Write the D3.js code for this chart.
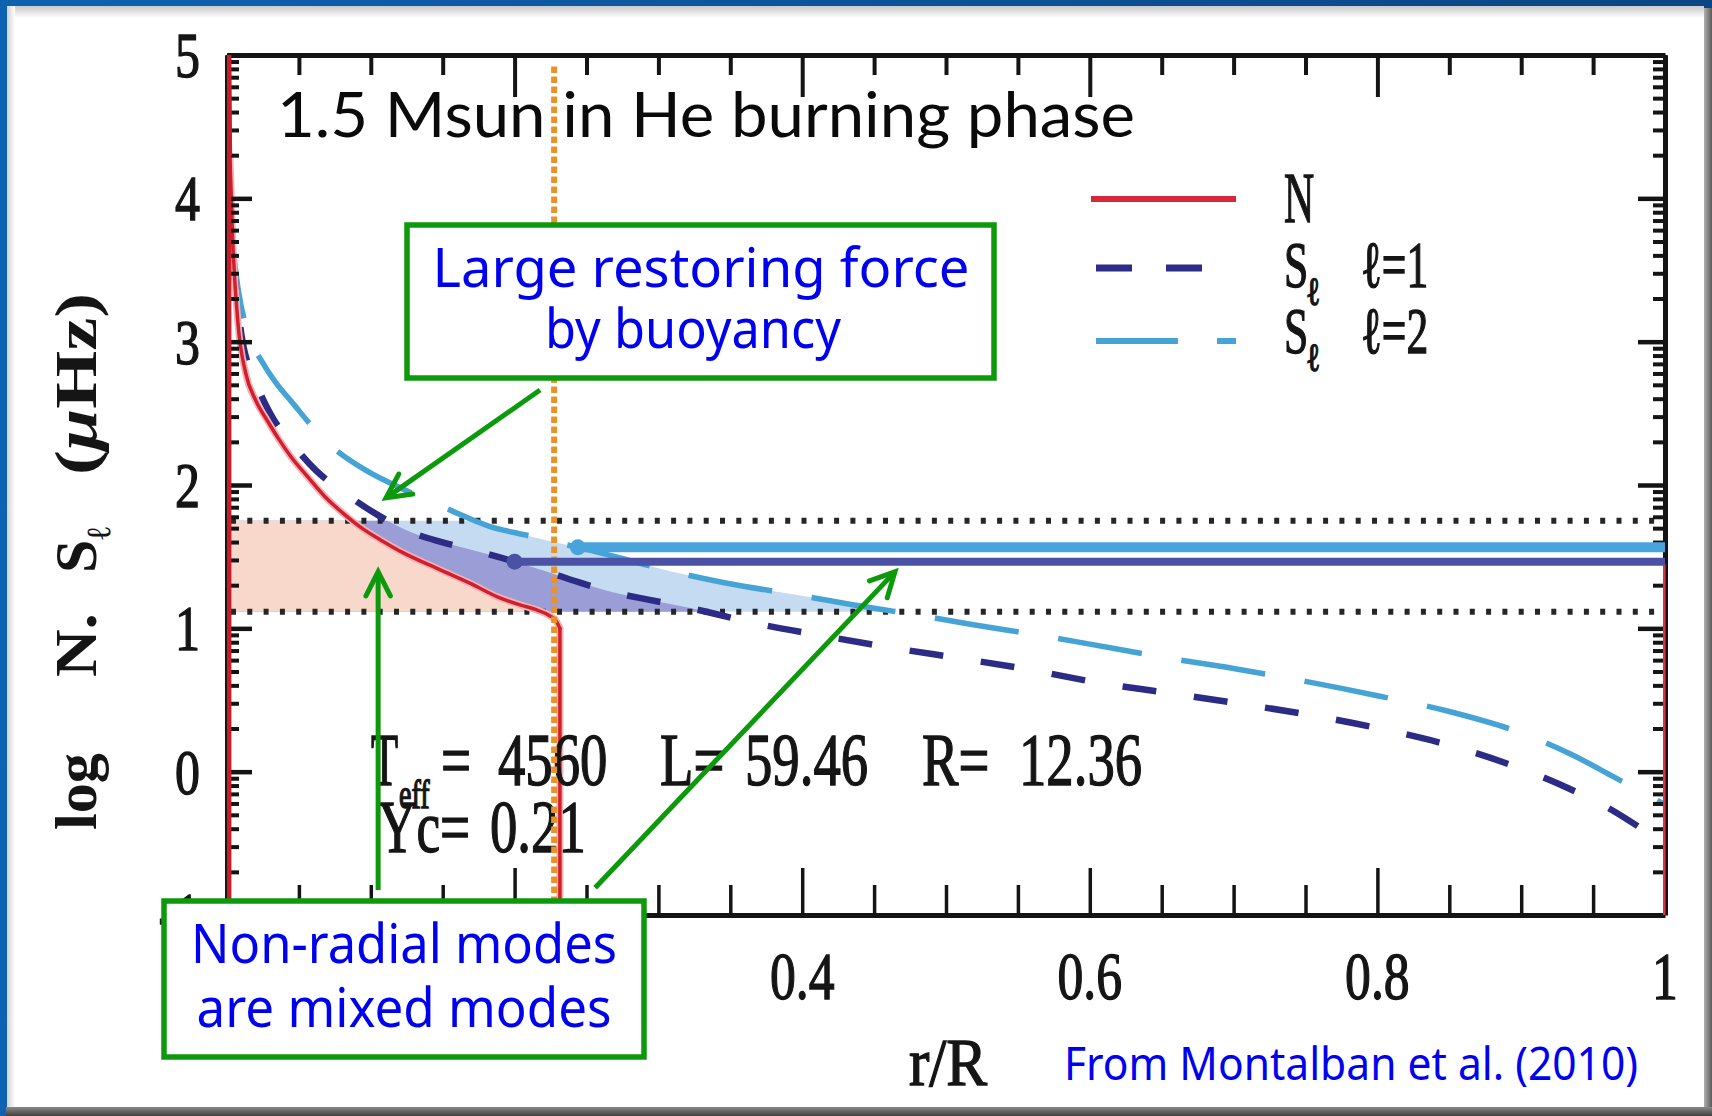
<!DOCTYPE html>
<html>
<head>
<meta charset="utf-8">
<script src="https://cdn.jsdelivr.net/npm/d3@7"></script>
<style>
  html, body { margin: 0; padding: 0; background: #0b55a0; }
  svg { display: block; }
</style>
</head>
<body>
<svg id="chart" width="1712" height="1116"></svg>
<script>
// ---------------------------------------------------------------
// Propagation diagram of a 1.5 Msun red-clump star:
// log of the Brunt-Vaisala frequency N and Lamb frequencies S_l
// ---------------------------------------------------------------

// Brunt-Vaisala frequency (log, muHz); null marks a break in the line
const nR   = [0.0015, 0.0015, 0.002, 0.004, 0.0077, 0.013, 0.020, 0.028, 0.036, 0.045, 0.055, 0.068, 0.081, 0.095, 0.108, 0.122, 0.148, 0.170, 0.188, 0.205, 0.215, 0.224, 0.229, 0.2315, 0.2315, null, 0.9995, 0.9995];
const nLog = [-1,     5,      4.30,  3.70,  3.12,   2.78,  2.59,  2.45,  2.32,  2.19,  2.07,  1.92,  1.80,  1.69,  1.61,  1.53,  1.41,  1.31,  1.22,  1.16,  1.13,  1.09,  1.05,  1.00,   -1,     null, -1,     1.45];

// Lamb frequency, l = 1
const s1R   = [0.004, 0.010, 0.020, 0.030, 0.046, 0.062, 0.081, 0.105, 0.128, 0.150, 0.173, 0.200, 0.221, 0.245, 0.269, 0.293, 0.318, 0.342, 0.365, 0.413, 0.465, 0.510, 0.559, 0.606, 0.654, 0.704, 0.756, 0.802, 0.848, 0.892, 0.927, 0.960, 0.981, 1.000];
const s1Log = [3.60,  3.05,  2.72,  2.50,  2.28,  2.10,  1.95,  1.79,  1.67,  1.60,  1.54,  1.465, 1.40,  1.32,  1.25,  1.20,  1.15,  1.095, 1.04,  0.95,  0.86,  0.79,  0.71,  0.62,  0.55,  0.475, 0.39,  0.30,  0.19,  0.05,  -0.09, -0.25, -0.38, -0.51];

// Lamb frequency, l = 2
const s2R   = [0.003, 0.008, 0.015, 0.025, 0.035, 0.045, 0.060, 0.074, 0.097, 0.125, 0.154, 0.183, 0.210, 0.228, 0.244, 0.270, 0.300, 0.345, 0.404, 0.432, 0.488, 0.516, 0.572, 0.600, 0.650, 0.700, 0.750, 0.800, 0.850, 0.900, 0.935, 0.965, 1.000];
const s2Log = [3.75,  3.35,  3.05,  2.85,  2.70,  2.58,  2.40,  2.26,  2.10,  1.96,  1.83,  1.71,  1.645, 1.60,  1.565, 1.50,  1.42,  1.32,  1.22,  1.17,  1.08,  1.03,  0.94,  0.89,  0.80,  0.72,  0.63,  0.53,  0.42,  0.27,  0.12,  -0.04, -0.23];

// observed frequency band (log muHz)
const bandLow = 1.115;
const bandHigh = 1.75;

// mixed-mode frequencies: start radius and log frequency
const modeR0  = [0.200, 0.244];
const modeLog = [1.465, 1.565];

// edge of the helium-burning core
const coreEdgeR = 0.2275;

// tick values and labels
const xTickValues = [0, 0.2, 0.4, 0.6, 0.8, 1];
const xTickLabels = ["0", "0.2", "0.4", "0.6", "0.8", "1"];
const yTickValues = [-1, 0, 1, 2, 3, 4, 5];
const yTickLabels = ["-1", "0", "1", "2", "3", "4", "5"];

// model parameters
const teff = "4560", lum = "59.46", radius = "12.36", yc = "0.21";

// ---------------------------------------------------------------
const W = 1712, H = 1116;
const svg = d3.select("#chart");
const defs = svg.append("defs");

// slide frame
const gBg = defs.append("linearGradient").attr("id", "bgGrad").attr("x1", 0).attr("x2", 1).attr("y1", 0).attr("y2", 0);
gBg.append("stop").attr("offset", 0).attr("stop-color", "#0d62b2");
gBg.append("stop").attr("offset", 1).attr("stop-color", "#0a4683");
const gTop = defs.append("linearGradient").attr("id", "topShade").attr("x1", 0).attr("x2", 0).attr("y1", 0).attr("y2", 1);
gTop.append("stop").attr("offset", 0).attr("stop-color", "#c9c9c9");
gTop.append("stop").attr("offset", 1).attr("stop-color", "#ffffff");
const gLeft = defs.append("linearGradient").attr("id", "leftShade").attr("x1", 0).attr("x2", 1).attr("y1", 0).attr("y2", 0);
gLeft.append("stop").attr("offset", 0).attr("stop-color", "#d2d2d2");
gLeft.append("stop").attr("offset", 1).attr("stop-color", "#ffffff");
const gRight = defs.append("linearGradient").attr("id", "rightShade").attr("x1", 0).attr("x2", 1).attr("y1", 0).attr("y2", 0);
gRight.append("stop").attr("offset", 0).attr("stop-color", "#b0b0b0");
gRight.append("stop").attr("offset", 1).attr("stop-color", "#5a5a5a");
const gBottom = defs.append("linearGradient").attr("id", "bottomShade").attr("x1", 0).attr("x2", 0).attr("y1", 0).attr("y2", 1);
gBottom.append("stop").attr("offset", 0).attr("stop-color", "#8a8a8a");
gBottom.append("stop").attr("offset", 1).attr("stop-color", "#3e3e3e");

svg.append("rect").attr("width", W).attr("height", H).attr("fill", "url(#bgGrad)");
svg.append("rect").attr("x", 1704).attr("y", 8).attr("width", 8).attr("height", H - 8).attr("fill", "url(#rightShade)");
svg.append("rect").attr("x", 6).attr("y", 1107).attr("width", W - 6).attr("height", 9).attr("fill", "url(#bottomShade)");
svg.append("rect").attr("x", 7).attr("y", 6).attr("width", 1697).attr("height", 1101).attr("fill", "#ffffff");
svg.append("rect").attr("x", 7).attr("y", 6).attr("width", 1697).attr("height", 12).attr("fill", "url(#topShade)");
svg.append("rect").attr("x", 7).attr("y", 6).attr("width", 8).attr("height", 1101).attr("fill", "url(#leftShade)");

// scales
const x = d3.scaleLinear().domain([0, 1]).range([227, 1665]);
const y = d3.scaleLinear().domain([-1, 5]).range([915, 55]);

const pts = (rs, vs) => rs.map((r, i) => [r, vs[i]]);
const nPts = pts(nR, nLog);
const s1Pts = pts(s1R, s1Log);
const s2Pts = pts(s2R, s2Log);
const dropAt = nPts.findIndex((d, i) => i > 2 && d[1] === -1);   // vertical drop at the core edge
const nCore = nPts.slice(2, dropAt);        // main N branch, r = 0.002 ... 0.2315

const plot = svg.append("g");

// ---- shaded cavities inside the frequency band ----
defs.append("clipPath").attr("id", "bandClip")
  .append("rect")
  .attr("x", x(0)).attr("y", y(bandHigh))
  .attr("width", x(1) - x(0)).attr("height", y(bandLow) - y(bandHigh));

const under = d3.area().x(d => x(d[0])).y0(y(-1)).y1(d => y(d[1])).curve(d3.curveMonotoneX);
const fills = plot.append("g").attr("clip-path", "url(#bandClip)");
fills.append("path").attr("d", under(s2Pts)).attr("fill", "#c4dbf1");
fills.append("path").attr("d", under(s1Pts)).attr("fill", "#9a9dd6");
fills.append("path").attr("d", under([[0, nCore[0][1]], ...nCore])).attr("fill", "#f7d8cb");

// ---- band limits (dotted) ----
[bandHigh, bandLow].forEach(v => {
  plot.append("line")
    .attr("x1", x(0) + 4).attr("x2", x(1))
    .attr("y1", y(v)).attr("y2", y(v))
    .attr("stroke", "#262626").attr("stroke-width", 6)
    .attr("stroke-dasharray", "5,11.3");
});

// ---- Lamb frequency curves ----
const smooth = d3.line().x(d => x(d[0])).y(d => y(d[1])).curve(d3.curveMonotoneX);
plot.append("path").attr("d", smooth(s2Pts))
  .attr("fill", "none").attr("stroke", "#46a3d6").attr("stroke-width", 5.5)
  .attr("stroke-dasharray", "85,40");
plot.append("path").attr("d", smooth(s1Pts))
  .attr("fill", "none").attr("stroke", "#2c2b86").attr("stroke-width", 6.5)
  .attr("stroke-dasharray", "34,38");

// ---- Brunt-Vaisala frequency ----
const nLine = d3.line().defined(d => d[0] !== null).x(d => x(d[0])).y(d => y(d[1]));
const nSegments = [
  smooth(nCore),                          // radiative core profile
  nLine(nPts.slice(dropAt - 1, dropAt + 1)) // drop at the core edge
];
[["#f3b2b5", 7], ["#d21f2e", 3.5]].forEach(([c, w]) => {
  nSegments.forEach(d => plot.append("path").attr("d", d)
    .attr("fill", "none").attr("stroke", c).attr("stroke-width", w)
    .attr("stroke-linejoin", "round").attr("stroke-linecap", "round"));
});

// ---- frame, axes and ticks ----
function styleAxis(g, width) {
  g.select(".domain").attr("stroke", "#141414").attr("stroke-width", 5);
  g.selectAll(".tick line").attr("stroke", "#141414").attr("stroke-width", width);
  g.selectAll(".tick text").remove();
}
const minorX = d3.range(0, 1.0001, 0.05).filter(v => Math.abs(v * 5 - Math.round(v * 5)) > 1e-6);
const minorY = [];
for (let d = -1; d < 5; d++) for (let k = 2; k <= 9; k++) minorY.push(d + Math.log10(k));

const axes = svg.append("g");
// top
axes.append("g").attr("transform", `translate(0,${y(5)})`)
  .call(d3.axisTop(x).tickValues(minorX).tickSizeInner(-20).tickSizeOuter(0).tickFormat(""))
  .call(g => { styleAxis(g, 4); g.select(".domain").remove(); });
axes.append("g").attr("transform", `translate(0,${y(5)})`)
  .call(d3.axisTop(x).tickValues(xTickValues).tickSizeInner(-42).tickSizeOuter(0).tickFormat(""))
  .call(g => styleAxis(g, 4));
// bottom
axes.append("g").attr("transform", `translate(0,${y(-1)})`)
  .call(d3.axisBottom(x).tickValues(minorX).tickSizeInner(-30).tickSizeOuter(0).tickFormat(""))
  .call(g => { styleAxis(g, 3.5); g.select(".domain").remove(); });
axes.append("g").attr("transform", `translate(0,${y(-1)})`)
  .call(d3.axisBottom(x).tickValues(xTickValues).tickSizeInner(-47).tickSizeOuter(0).tickFormat(""))
  .call(g => styleAxis(g, 3.5));
// left
axes.append("g").attr("transform", `translate(${x(0)},0)`)
  .call(d3.axisLeft(y).tickValues(minorY).tickSizeInner(-12).tickSizeOuter(0).tickFormat(""))
  .call(g => { styleAxis(g, 4); g.select(".domain").remove(); });
axes.append("g").attr("transform", `translate(${x(0)},0)`)
  .call(d3.axisLeft(y).tickValues(yTickValues).tickSizeInner(-25).tickSizeOuter(0).tickFormat(""))
  .call(g => styleAxis(g, 4.5));
// right
axes.append("g").attr("transform", `translate(${x(1)},0)`)
  .call(d3.axisRight(y).tickValues(minorY).tickSizeInner(-12).tickSizeOuter(0).tickFormat(""))
  .call(g => { styleAxis(g, 4); g.select(".domain").remove(); });
axes.append("g").attr("transform", `translate(${x(1)},0)`)
  .call(d3.axisRight(y).tickValues(yTickValues).tickSizeInner(-27).tickSizeOuter(0).tickFormat(""))
  .call(g => styleAxis(g, 4.5));

// N along the centre and surface redrawn over the frame
axes.append("path").attr("d", nLine(nPts.slice(0, 3)))
  .attr("fill", "none").attr("stroke", "#c41e2a").attr("stroke-width", 4.5);
axes.append("path").attr("d", nLine(nPts.slice(dropAt + 2)))
  .attr("fill", "none").attr("stroke", "#d83a44").attr("stroke-width", 2.5);

// ---- condensed serif text helper ----
function serif(parent, str, px, py, size, sx, anchor) {
  const g = parent.append("g").attr("transform", `translate(${px},${py}) scale(${sx},1)`);
  return g.append("text")
    .attr("font-family", "Liberation Serif, serif")
    .attr("font-size", size)
    .attr("text-anchor", anchor || "start")
    .attr("fill", "#151515")
    .attr("stroke", "#151515").attr("stroke-width", 1.4)
    .text(str);
}

const labels = svg.append("g");
xTickValues.forEach((v, i) => serif(labels, xTickLabels[i], x(v), 999, 68, 0.76, "middle"));
yTickValues.forEach((v, i) => serif(labels, yTickLabels[i], 200, y(v) + 22, 64, 0.78, "end"));

// x-axis title
serif(labels, "r/R", 948, 1085, 68, 0.9, "middle");

// y-axis title (rotated)
function yTitle(str, ystart, len) {
  return labels.append("text")
    .attr("transform", `translate(96,${ystart}) rotate(-90)`)
    .attr("font-family", "Liberation Serif, serif")
    .attr("font-size", 60).attr("font-weight", "bold")
    .attr("fill", "#151515")
    .attr("textLength", len).attr("lengthAdjust", "spacingAndGlyphs")
    .text(str);
}
yTitle("log", 830, 77);
yTitle("N.", 677, 64);
const sT = labels.append("text")
  .attr("transform", "translate(96,573) rotate(-90)")
  .attr("font-family", "Liberation Serif, serif").attr("font-size", 60).attr("font-weight", "bold")
  .attr("fill", "#151515");
sT.append("tspan").text("S");
sT.append("tspan").attr("font-size", 34).attr("dy", 14).text("\u2113");
const uT = labels.append("text")
  .attr("transform", "translate(96,475) rotate(-90)")
  .attr("font-family", "Liberation Serif, serif").attr("font-size", 60).attr("font-weight", "bold")
  .attr("fill", "#151515")
  .attr("textLength", 182).attr("lengthAdjust", "spacingAndGlyphs");
uT.append("tspan").text("(");
uT.append("tspan").attr("font-style", "italic").text("\u03bc");
uT.append("tspan").text("Hz)");

// ---- model parameters ----
serif(labels, "T", 371, 785, 74, 0.6);
serif(labels, "eff", 399, 808, 40, 0.7);
serif(labels, "=", 441, 785, 74, 0.72);
serif(labels, teff, 498, 785, 74, 0.74);
serif(labels, "L=", 660, 785, 74, 0.74);
serif(labels, lum, 745, 785, 74, 0.74);
serif(labels, "R=", 922, 785, 74, 0.74);
serif(labels, radius, 1019, 785, 74, 0.74);
serif(labels, "Yc=", 378, 852, 74, 0.72);
serif(labels, yc, 490, 852, 74, 0.74);

// ---- legend ----
const legend = [
  { name: "N",   sub: null, tag: "",      color: "#d8283a", dash: null,    width: 6 },
  { name: "S",   sub: "\u2113", tag: "\u2113=1", color: "#2c2b86", dash: "36,34", width: 7 },
  { name: "S",   sub: "\u2113", tag: "\u2113=2", color: "#46a3d6", dash: "82,39", width: 6 }
];
const legRows = [199, 268, 341];
const legBase = [222, 287, 353];
legend.forEach((e, i) => {
  const l = labels.append("line")
    .attr("x1", e.dash ? 1096 : 1091).attr("x2", 1236)
    .attr("y1", legRows[i]).attr("y2", legRows[i])
    .attr("stroke", e.color).attr("stroke-width", e.width);
  if (e.dash) l.attr("stroke-dasharray", e.dash);
  serif(labels, e.name, 1284, legBase[i], e.sub ? 66 : 72, e.sub ? 0.66 : 0.58);
  if (e.sub) {
    serif(labels, e.sub, 1306, legBase[i] + 18, 40, 0.75);
    serif(labels, e.tag, 1361, legBase[i], 66, 0.66);
  }
});

// ---- overlays: core edge and mode frequencies ----
const over = svg.append("g");
over.append("line")
  .attr("x1", x(coreEdgeR)).attr("x2", x(coreEdgeR))
  .attr("y1", y(4.92)).attr("y2", y(-1))
  .attr("stroke", "#e8922c").attr("stroke-width", 6)
  .attr("stroke-dasharray", "6.5,3.5");

const modeColors = ["#4b52a6", "#49a4dc"];
const modeWidths = [8, 10];
const straight = d3.line().x(d => x(d[0])).y(d => y(d[1]));
modeR0.forEach((r0, i) => {
  over.append("path").attr("d", straight([[r0, modeLog[i]], [1, modeLog[i]]]))
    .attr("stroke", modeColors[i]).attr("stroke-width", modeWidths[i]).attr("fill", "none");
  over.append("circle").attr("cx", x(r0)).attr("cy", y(modeLog[i])).attr("r", 8)
    .attr("fill", modeColors[i]);
});

// ---- annotation arrows (tail and tip in data units) ----
const green = "#0c990c";
const arrows = [
  { from: [0.2177, 2.663], to: [0.1106, 1.91] },
  { from: [0.1051, -0.826], to: [0.1051, 1.394] },
  { from: [0.2560, -0.810], to: [0.4645, 1.394] }
];
arrows.forEach(a => {
  const x1 = x(a.from[0]), y1 = y(a.from[1]), x2 = x(a.to[0]), y2 = y(a.to[1]);
  const ang = Math.atan2(y2 - y1, x2 - x1);
  const L = 27, spread = 0.47;
  over.append("line").attr("x1", x1).attr("y1", y1).attr("x2", x2).attr("y2", y2)
    .attr("stroke", green).attr("stroke-width", 5);
  const head = d3.path();
  head.moveTo(x2 - L * Math.cos(ang - spread), y2 - L * Math.sin(ang - spread));
  head.lineTo(x2, y2);
  head.lineTo(x2 - L * Math.cos(ang + spread), y2 - L * Math.sin(ang + spread));
  over.append("path").attr("d", head.toString())
    .attr("fill", "none").attr("stroke", green).attr("stroke-width", 5)
    .attr("stroke-linejoin", "miter").attr("stroke-linecap", "round");
});

// ---- annotation boxes ----
function note(bx, by, bw, bh, lines) {
  over.append("rect").attr("x", bx).attr("y", by).attr("width", bw).attr("height", bh)
    .attr("fill", "#ffffff").attr("stroke", green).attr("stroke-width", 5.5);
  lines.forEach(l => {
    over.append("text").attr("x", l.cx).attr("y", l.base)
      .attr("text-anchor", "middle")
      .attr("font-family", "Noto Sans, sans-serif").attr("font-size", 54)
      .attr("fill", "#0000f0")
      .attr("textLength", l.len).attr("lengthAdjust", "spacingAndGlyphs")
      .text(l.text);
  });
}
note(407, 225, 587, 153, [
  { text: "Large restoring force", cx: 701, base: 287, len: 537 },
  { text: "by buoyancy", cx: 693, base: 348, len: 296 }
]);
note(164, 901, 480, 156, [
  { text: "Non-radial modes", cx: 404, base: 963, len: 426 },
  { text: "are mixed modes", cx: 404, base: 1027, len: 415 }
]);

// title and source
svg.append("text").attr("x", 277).attr("y", 137)
  .attr("font-family", "Lato, sans-serif").attr("font-size", 61)
  .attr("fill", "#0a0a0a")
  .attr("textLength", 858).attr("lengthAdjust", "spacingAndGlyphs")
  .text("1.5 Msun in He burning phase");
svg.append("text").attr("x", 1064).attr("y", 1080)
  .attr("font-family", "Noto Sans, sans-serif").attr("font-size", 45)
  .attr("fill", "#0000f0")
  .attr("textLength", 574).attr("lengthAdjust", "spacingAndGlyphs")
  .text("From Montalban et al. (2010)");
</script>
</body>
</html>
